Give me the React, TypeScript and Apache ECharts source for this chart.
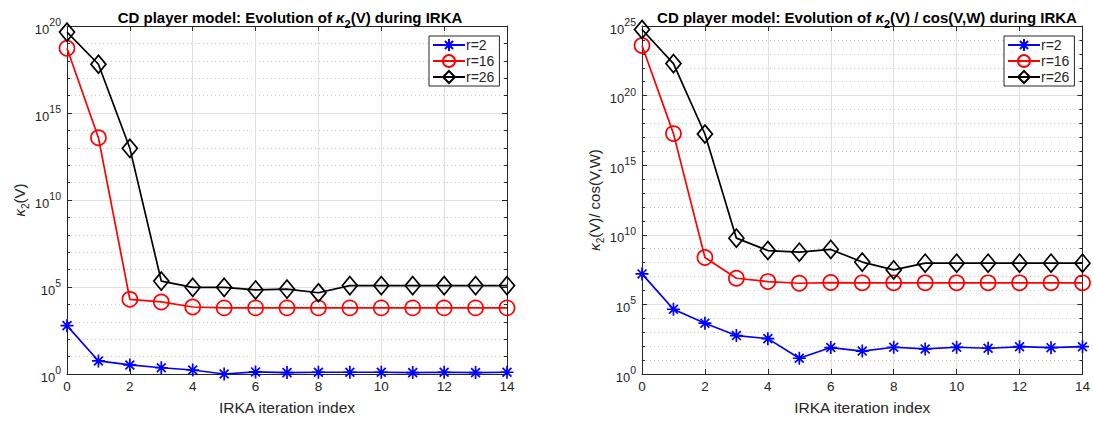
import React, { useEffect, useRef } from "react";
import * as echarts from "echarts";

// IRKA iteration indices
const ITERATIONS = [0, 1, 2, 3, 4, 5, 6, 7, 8, 9, 10, 11, 12, 13, 14];
const SERIES_NAMES = ["r=2", "r=16", "r=26"];

// Left panel: log10 of kappa_2(V)
const LEFT_R2_LOG10 = [2.78, 0.75, 0.52, 0.36, 0.23, 0.0, 0.12, 0.08, 0.1, 0.1, 0.1, 0.08, 0.1, 0.08, 0.1];
const LEFT_R16_LOG10 = [18.72, 13.58, 4.29, 4.14, 3.85, 3.8, 3.8, 3.8, 3.8, 3.8, 3.8, 3.8, 3.8, 3.8, 3.8];
const LEFT_R26_LOG10 = [19.65, 17.8, 12.97, 5.34, 4.98, 4.98, 4.83, 4.88, 4.67, 5.08, 5.08, 5.08, 5.08, 5.08, 5.08];

// Right panel: log10 of kappa_2(V)/cos(V,W)
const RIGHT_R2_LOG10 = [7.19, 4.65, 3.65, 2.76, 2.54, 1.13, 1.9, 1.65, 1.92, 1.8, 1.92, 1.85, 1.96, 1.89, 1.96];
const RIGHT_R16_LOG10 = [23.6, 17.27, 8.37, 6.88, 6.64, 6.52, 6.57, 6.55, 6.55, 6.55, 6.55, 6.55, 6.55, 6.55, 6.55];
const RIGHT_R26_LOG10 = [24.75, 22.3, 17.24, 9.76, 8.87, 8.75, 8.95, 8.04, 7.48, 7.96, 7.96, 7.96, 7.96, 7.96, 7.96];

const LEFT_Y_MAX = 20;
const RIGHT_Y_MAX = 25;
const Y_INTERVAL = 5;

const FONT = "'Liberation Sans', Arial, Helvetica, sans-serif";
const AXIS_COLOR = "#262626";
const GRID_COLOR = "#e1e1e1";
const MINOR_GRID_COLOR = "#c8c8c8";

const ASTERISK = "path://M5 0L5 10M0 5L10 5M1.6 1.6L8.4 8.4M1.6 8.4L8.4 1.6";

export default function App() {
  const ref = useRef<HTMLDivElement>(null);

  useEffect(() => {
    if (!ref.current) return;
    const chart = echarts.init(ref.current, null, { renderer: "svg" });

    const pair = (arr: number[]) => ITERATIONS.map((x, i) => [x, arr[i]]);

    const supRich = {
      b: { fontSize: 13, fontFamily: FONT, color: AXIS_COLOR, lineHeight: 19, verticalAlign: "bottom" },
      s: { fontSize: 10.5, fontFamily: FONT, color: AXIS_COLOR, lineHeight: 19, verticalAlign: "top" },
    };

    const nameRich = {
      k: { fontSize: 15, fontFamily: FONT, fontStyle: "italic", color: AXIS_COLOR, lineHeight: 20, verticalAlign: "bottom" },
      sub: { fontSize: 10, fontFamily: FONT, color: AXIS_COLOR, lineHeight: 20, verticalAlign: "bottom", padding: [0, 0, -4, 0] },
      t: { fontSize: 15, fontFamily: FONT, color: AXIS_COLOR, lineHeight: 20, verticalAlign: "bottom" },
    };

    const titleRich = {
      t: { fontSize: 15, fontWeight: "bold", fontFamily: FONT, color: "#000", lineHeight: 20, verticalAlign: "bottom" },
      k: { fontSize: 15, fontWeight: "bold", fontStyle: "italic", fontFamily: FONT, color: "#000", lineHeight: 20, verticalAlign: "bottom" },
      sub: { fontSize: 11, fontWeight: "bold", fontFamily: FONT, color: "#000", lineHeight: 20, verticalAlign: "bottom", padding: [0, 0, -4, 0] },
    };

    const makeX = (gridIndex: number) => ({
      type: "value",
      gridIndex,
      min: 0,
      max: 14,
      interval: 2,
      name: "IRKA iteration index",
      nameLocation: "middle",
      nameGap: 25,
      nameTextStyle: { fontSize: 15.5, fontFamily: FONT, color: AXIS_COLOR },
      axisLine: { show: true, onZero: false, lineStyle: { color: AXIS_COLOR, width: 1 } },
      axisTick: { show: true, inside: true, length: 5, lineStyle: { color: AXIS_COLOR } },
      axisLabel: { fontSize: 13.5, fontFamily: FONT, color: AXIS_COLOR, margin: 5 },
      splitLine: { show: true, lineStyle: { color: GRID_COLOR, width: 1 } },
    });

    const makeXTop = (gridIndex: number) => ({
      type: "value",
      gridIndex,
      position: "top",
      min: 0,
      max: 14,
      interval: 2,
      axisLine: { show: true, onZero: false, lineStyle: { color: AXIS_COLOR, width: 1 } },
      axisTick: { show: true, inside: true, length: 5, lineStyle: { color: AXIS_COLOR } },
      axisLabel: { show: false },
      splitLine: { show: false },
    });

    const makeY = (gridIndex: number, max: number, name: string, nameGap: number) => ({
      type: "value",
      gridIndex,
      min: 0,
      max,
      interval: Y_INTERVAL,
      name,
      nameLocation: "middle",
      nameGap,
      nameTextStyle: { rich: nameRich },
      axisLine: { show: true, onZero: false, lineStyle: { color: AXIS_COLOR, width: 1 } },
      axisTick: { show: true, inside: true, length: 5, lineStyle: { color: AXIS_COLOR } },
      minorTick: { show: true, splitNumber: 5, length: 3, lineStyle: { color: AXIS_COLOR } },
      axisLabel: {
        margin: 6,
        formatter: (v: number) => `{b|10}{s|${v}}`,
        rich: supRich,
      },
      splitLine: { show: true, lineStyle: { color: GRID_COLOR, width: 1 } },
      minorSplitLine: { show: true, lineStyle: { color: MINOR_GRID_COLOR, width: 1, type: [1, 3] } },
    });

    const makeYRight = (gridIndex: number, max: number) => ({
      type: "value",
      gridIndex,
      position: "right",
      min: 0,
      max,
      interval: Y_INTERVAL,
      axisLine: { show: true, onZero: false, lineStyle: { color: AXIS_COLOR, width: 1 } },
      axisTick: { show: true, inside: true, length: 5, lineStyle: { color: AXIS_COLOR } },
      minorTick: { show: true, splitNumber: 5, length: 3, lineStyle: { color: AXIS_COLOR } },
      axisLabel: { show: false },
      splitLine: { show: false },
    });

    const makeSeries = (name: string, data: number[], xAxisIndex: number, yAxisIndex: number) => {
      const base: any = {
        name,
        type: "line",
        xAxisIndex,
        yAxisIndex,
        data: pair(data),
        showAllSymbol: true,
        z: 3,
      };
      if (name === "r=2") {
        base.symbol = ASTERISK;
        base.symbolSize = 13;
        base.lineStyle = { color: "#0000ff", width: 1.7 };
        base.itemStyle = { color: "#0000ff", borderColor: "#0000ff", borderWidth: 1.7 };
      } else if (name === "r=16") {
        base.symbol = "circle";
        base.symbolSize = 15;
        base.lineStyle = { color: "#ff0000", width: 1.7 };
        base.itemStyle = { color: "rgba(0,0,0,0)", borderColor: "#ff0000", borderWidth: 1.7 };
      } else {
        base.symbol = "diamond";
        base.symbolSize = [15, 18];
        base.lineStyle = { color: "#000000", width: 1.7 };
        base.itemStyle = { color: "rgba(0,0,0,0)", borderColor: "#000000", borderWidth: 1.7 };
      }
      return base;
    };

    const makeLegend = (left: number) => ({
      left,
      top: 36,
      orient: "vertical",
      data: SERIES_NAMES,
      itemWidth: 32,
      itemHeight: 15,
      itemGap: 2,
      padding: [2, 5, 2, 3],
      borderColor: AXIS_COLOR,
      borderWidth: 1,
      backgroundColor: "#ffffff",
      borderRadius: 0,
      selectedMode: false,
      textStyle: { fontSize: 14, fontFamily: FONT, color: AXIS_COLOR, padding: [0, 0, 0, -4] },
    });

    const option: any = {
      animation: false,
      backgroundColor: "#ffffff",
      title: [
        {
          text: "{t|CD player model: Evolution of }{k|κ}{sub|2}{t|(V) during IRKA}",
          left: 285,
          top: 0,
          textAlign: "center",
          textStyle: { rich: titleRich },
        },
        {
          text: "{t|CD player model: Evolution of }{k|κ}{sub|2}{t|(V) / cos(V,W) during IRKA}",
          left: 862,
          top: 0,
          textAlign: "center",
          textStyle: { rich: titleRich },
        },
      ],
      legend: [makeLegend(429), makeLegend(1004)],
      grid: [
        { left: 67, right: 1093 - 507, top: 26, bottom: 421 - 374, containLabel: false },
        { left: 642, right: 1093 - 1083, top: 26, bottom: 421 - 374, containLabel: false },
      ],
      xAxis: [makeX(0), makeX(1), makeXTop(0), makeXTop(1)],
      yAxis: [
        makeY(0, LEFT_Y_MAX, "{k|κ}{sub|2}{t|(V)}", 36),
        makeY(1, RIGHT_Y_MAX, "{k|κ}{sub|2}{t|(V)/ cos(V,W)}", 37),
        makeYRight(0, LEFT_Y_MAX),
        makeYRight(1, RIGHT_Y_MAX),
      ],
      series: [
        makeSeries("r=2", LEFT_R2_LOG10, 0, 0),
        makeSeries("r=16", LEFT_R16_LOG10, 0, 0),
        makeSeries("r=26", LEFT_R26_LOG10, 0, 0),
        makeSeries("r=2", RIGHT_R2_LOG10, 1, 1),
        makeSeries("r=16", RIGHT_R16_LOG10, 1, 1),
        makeSeries("r=26", RIGHT_R26_LOG10, 1, 1),
      ],
    };

    chart.setOption(option);
    return () => chart.dispose();
  }, []);

  return (
    <div
      ref={ref}
      style={{ position: "fixed", left: 0, top: 0, width: 1093, height: 421, background: "#fff" }}
    />
  );
}
